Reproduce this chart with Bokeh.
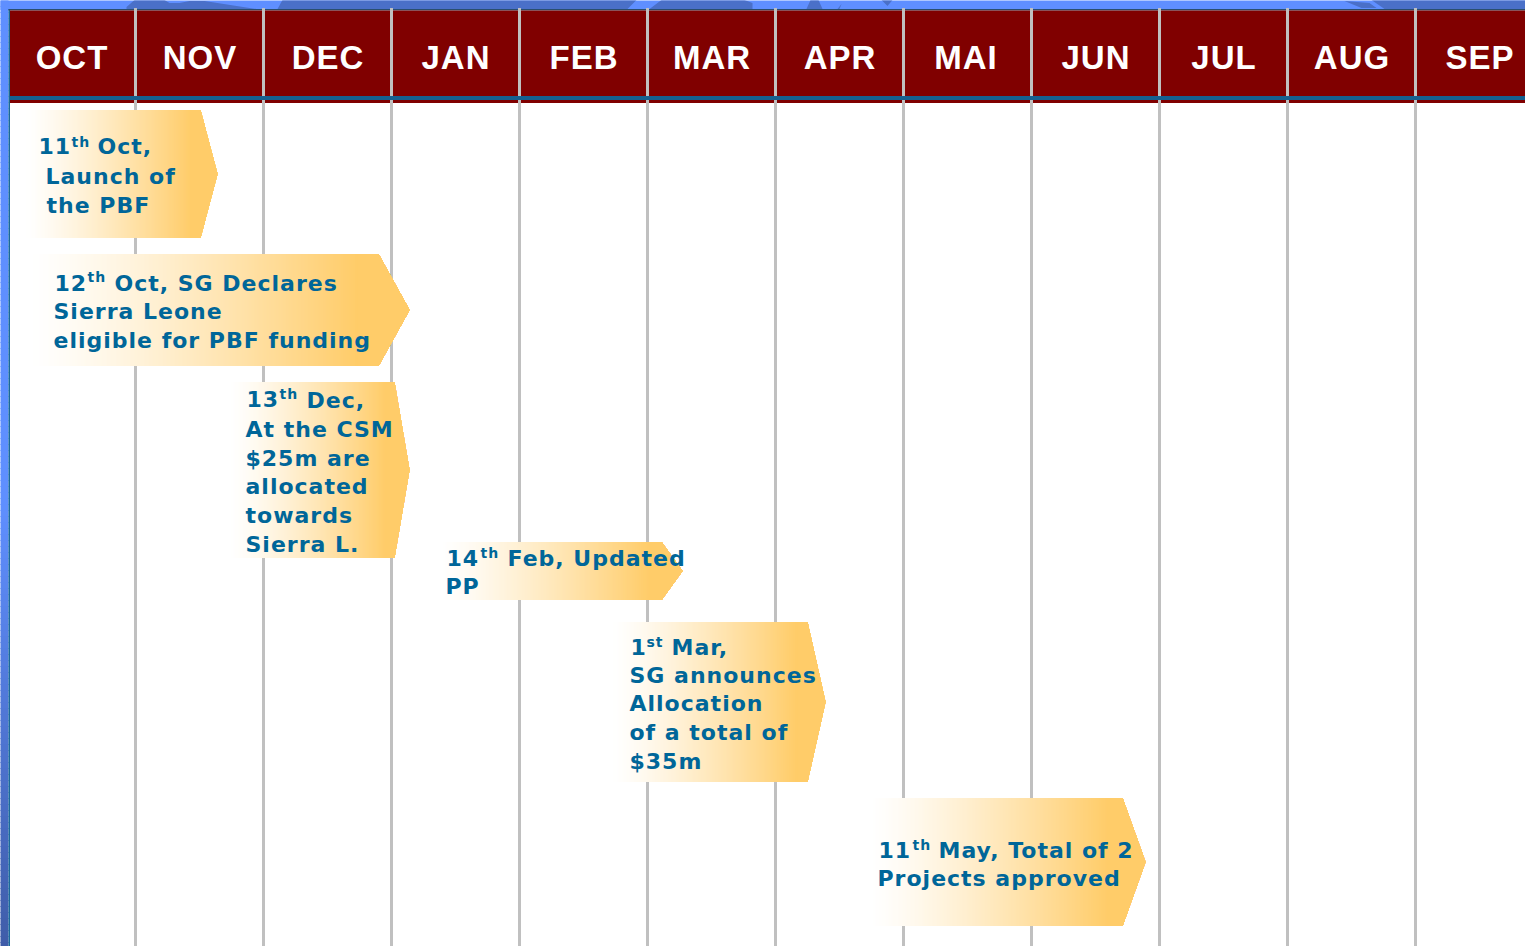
from bokeh.plotting import figure
from bokeh.models import Range1d
from bokeh.embed import file_html
from bokeh.resources import INLINE
from bokeh.core.properties import value

MONTHS = ["OCT", "NOV", "DEC", "JAN", "FEB", "MAR", "APR", "MAI", "JUN", "JUL", "AUG", "SEP"]
MONTH_NUDGE = [-1, -1, -1, -1, -1, -1, -1, -3, -1, -1, -1, -1]

# Timeline events: left edge, end of body, arrow tip, top, bottom
EVENT_LEFT = [25, 30, 230, 440, 612, 870]
EVENT_BODY = [201, 379, 395, 662, 808, 1123]
EVENT_TIP = [218, 410, 410, 683, 826, 1146]
EVENT_TOP = [110, 254, 382, 542, 622, 798]
EVENT_BOTTOM = [238, 366, 558, 600, 782, 926]

# Text runs
MAIN_TEXT = ["11", "Oct,", "Launch of", "the PBF",
             "12", "Oct, SG Declares", "Sierra Leone", "eligible for PBF funding",
             "13", "Dec,", "At the CSM", "$25m are", "allocated", "towards", "Sierra L.",
             "14", "Feb, Updated", "PP",
             "1", "Mar,", "SG announces", "Allocation", "of a total of", "$35m",
             "11", "May, Total of 2", "Projects approved"]
MAIN_X = [39, 98, 46, 47,
          55, 115, 54, 54,
          247, 307, 246, 246, 246, 246, 246,
          447, 508, 446,
          631, 672, 630, 630, 630, 630,
          879, 939, 878]
MAIN_Y = [154, 154, 184, 213,
          291, 291, 319, 348,
          407, 408, 437, 466, 494, 523, 552,
          566, 566, 594,
          655, 655, 683, 711, 740, 769,
          858, 858, 886]
SUP_TEXT = ["th", "th", "th", "th", "st", "th"]
SUP_X = [72, 88, 280, 481, 647, 913]
SUP_Y = [147, 282, 399, 558, 647, 850]

# Faint world map peeking through the top strip
MAP_XS = [[127, 135, 165, 170, 180, 190, 205, 257, 240, 127],
          [278, 283, 637, 628, 278],
          [650, 662, 745, 753, 753, 650],
          [807, 811, 819, 823, 807],
          [838, 842, 840],
          [882, 893, 888],
          [1345, 1370, 1377, 1362],
          [1372, 1526, 1526, 1385]]
MAP_YS = [[7, 0, 0, 3, 3, 1, 1, 9, 9, 9],
          [9, 0, 0, 9, 9],
          [9, 0, 0, 3, 9, 9],
          [9, 0, 0, 9, 9],
          [9, 4, 9],
          [0, 0, 6],
          [1, 3, 8, 8],
          [0, 0, 9, 9]]

W, H = 1525, 946
GRID_START, MONTH_W = 8, 128
WHITE, ORANGE = (255, 255, 255), (255, 204, 105)
TEXT_BLUE = "#006699"


def mix(a, b, t):
    t = max(0.0, min(1.0, t))
    return "#%02x%02x%02x" % tuple(round(x + (y - x) * t) for x, y in zip(a, b))


p = figure(width=W, height=H, x_range=Range1d(1, W + 1), y_range=Range1d(H + 0.5, 0.5),
           output_backend="svg", toolbar_location=None, min_border=0,
           background_fill_color="white", border_fill_color="white", outline_line_color=None,
           styles={"position": "absolute", "left": "0", "top": "0", "letter-spacing": "1px"})
p.axis.visible = False
p.grid.visible = False

# Blue slide background: top strip and left strip with its vertical fade
p.quad(left=0, right=W + 1, top=0, bottom=10, fill_color="#5f8fff", line_color=None)
p.patches(MAP_XS, MAP_YS, fill_color="#4a70c8", line_color=None)
fade = list(range(0, H, 6))
p.quad(left=0, right=9, top=fade, bottom=[y + 7 for y in fade], line_color=None,
       fill_color=[mix((95, 143, 255), (63, 92, 168), (y - 500) / (H - 500)) for y in fade])
p.quad(left=9, right=10.5, top=9, bottom=H + 1, fill_color="#1a6a9a", line_color=None)

# Header band
p.quad(left=9, right=W + 1, top=9, bottom=10.5, fill_color="#2a4f6f", line_color=None)
p.quad(left=10.5, right=W + 1, top=10.5, bottom=103, fill_color="#800000", line_color=None)

# Month separators
edges = [GRID_START + MONTH_W * i for i in range(1, len(MONTHS))]
p.segment(x0=edges, x1=edges, y0=8, y1=H + 1, line_color="#c0c0c0", line_width=3)
p.quad(left=10.5, right=W + 1, top=96, bottom=100, fill_color="#156090", line_color=None)

# Arrow shapes with a horizontal white-to-orange fade (overlapping slices, left to right)
for left, body, tip, top, bottom in zip(EVENT_LEFT, EVENT_BODY, EVENT_TIP, EVENT_TOP, EVENT_BOTTOM):
    mid = (top + bottom) / 2
    solid = left + 0.86 * (tip - left)
    xs, ys, cs = [], [], []
    for x in range(left, int(solid) + 3, 2):
        if x < body:
            xs.append([x, body, tip, body, x])
            ys.append([top, top, mid, bottom, bottom])
        else:
            k = (tip - x) / (tip - body) * (bottom - top) / 2
            xs.append([x, tip, x])
            ys.append([mid - k, mid, mid + k])
        cs.append(mix(WHITE, ORANGE, ((x - left) / (solid - left)) ** 1.25))
    p.patches(xs, ys, fill_color=cs, line_color=None)

# Month labels
p.text(x=[GRID_START + MONTH_W * (i + 0.5) + MONTH_NUDGE[i] for i in range(len(MONTHS))], y=[69] * len(MONTHS),
       text=MONTHS, text_color="white", text_font=value("Liberation Sans"), text_font_style="bold",
       text_font_size="33px", text_align="center", text_baseline="alphabetic", y_offset=-12)

# Event captions
p.text(x=MAIN_X, y=MAIN_Y, text=MAIN_TEXT, text_color=TEXT_BLUE, text_font=value("DejaVu Sans"),
       text_font_style="bold", text_font_size="22px", text_align="left", text_baseline="alphabetic", y_offset=-8)
p.text(x=SUP_X, y=SUP_Y, text=SUP_TEXT, text_color=TEXT_BLUE, text_font=value("DejaVu Sans"),
       text_font_style="bold", text_font_size="14px", text_align="left", text_baseline="alphabetic", y_offset=-5)

open("out.html", "w").write(file_html(p, INLINE))
